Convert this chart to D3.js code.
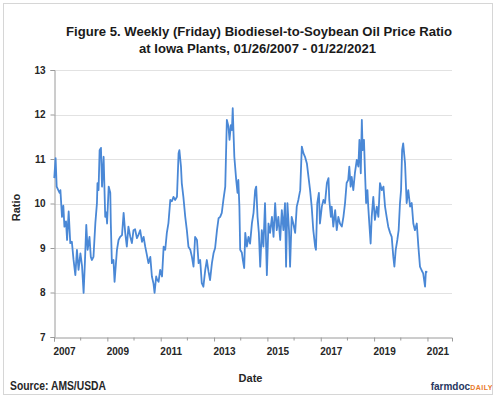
<!DOCTYPE html>
<html>
<head>
<meta charset="utf-8">
<script src="https://cdn.jsdelivr.net/npm/d3@7"></script>
<style>
  html, body { margin: 0; padding: 0; background: #fff; }
  svg { display: block; font-family: "Liberation Sans", Arial, sans-serif; }
</style>
</head>
<body>
<svg id="chart" width="500" height="400"></svg>
<script>
// ---- data (decimal year, ratio) ----
const years = [
2007.08,2007.13,2007.17,2007.23,2007.28,2007.31,2007.37,2007.42,2007.46,2007.52,2007.56,2007.62,2007.68,2007.74,2007.80,2007.87,2007.93,2007.99,
2008.06,2008.12,2008.18,2008.23,2008.28,2008.33,2008.40,2008.45,2008.49,2008.55,2008.62,2008.68,2008.70,2008.74,2008.78,2008.83,2008.87,2008.93,2008.99,
2009.03,2009.06,2009.12,2009.18,2009.20,2009.24,2009.30,2009.34,2009.43,2009.49,2009.55,2009.62,2009.68,2009.74,2009.80,2009.86,2009.93,2009.99,
2010.05,2010.11,2010.18,2010.24,2010.30,2010.37,2010.43,2010.49,2010.55,2010.61,2010.68,2010.74,2010.80,2010.84,2010.90,2010.93,2010.99,
2011.05,2011.12,2011.18,2011.24,2011.30,2011.36,2011.43,2011.49,2011.55,2011.61,2011.68,2011.74,2011.77,2011.83,2011.86,2011.92,2011.99,
2012.05,2012.11,2012.18,2012.24,2012.30,2012.36,2012.43,2012.49,2012.55,2012.61,2012.67,2012.74,2012.80,2012.86,2012.92,2012.99,
2013.05,2013.11,2013.18,2013.24,2013.30,2013.36,2013.42,2013.49,2013.55,2013.61,2013.65,2013.70,2013.74,2013.77,2013.80,2013.83,2013.90,2013.95,2013.98,
2014.02,2014.05,2014.11,2014.15,2014.20,2014.24,2014.30,2014.36,2014.42,2014.49,2014.55,2014.61,2014.65,2014.70,2014.75,2014.80,2014.86,2014.92,2014.98,
2015.05,2015.11,2015.17,2015.24,2015.30,2015.36,2015.42,2015.48,2015.55,2015.61,2015.67,2015.73,2015.77,2015.82,2015.88,2015.92,2015.98,
2016.04,2016.11,2016.17,2016.23,2016.30,2016.36,2016.42,2016.48,2016.55,2016.61,2016.67,2016.73,2016.79,2016.86,2016.89,2016.94,
2017.00,2017.04,2017.11,2017.17,2017.23,2017.30,2017.36,2017.39,2017.45,2017.48,2017.54,2017.61,2017.67,2017.73,2017.79,2017.86,2017.92,2017.98,
2018.04,2018.10,2018.14,2018.19,2018.23,2018.29,2018.35,2018.42,2018.48,2018.52,2018.57,2018.61,2018.64,2018.69,2018.73,2018.77,2018.82,2018.85,2018.89,2018.94,2018.98,
2019.04,2019.10,2019.17,2019.23,2019.29,2019.36,2019.42,2019.48,2019.54,2019.60,2019.67,2019.73,2019.79,2019.83,2019.88,2019.94,2019.99,
2020.04,2020.08,2020.12,2020.16,2020.23,2020.29,2020.35,2020.42,2020.48,2020.54,2020.60,2020.67,2020.73,2020.79,2020.85,2020.91,2020.98,
2021.01,2021.06
];
const ratio = [
10.57,11.02,10.38,10.30,10.24,10.30,9.70,9.95,9.48,9.60,9.18,9.82,9.11,9.14,8.75,8.39,8.96,8.51,
8.88,8.60,7.99,8.70,9.52,8.96,9.25,8.80,8.73,8.80,9.56,10.01,10.46,10.30,11.20,11.25,10.38,11.05,9.70,
9.80,9.55,10.38,10.24,9.55,8.66,8.73,8.24,8.96,9.18,9.25,9.29,9.79,9.34,9.03,9.48,9.25,9.11,
9.40,9.42,9.22,9.30,9.40,9.14,9.25,9.03,8.85,8.66,8.80,8.36,8.20,7.99,8.36,8.30,8.24,
8.51,8.36,9.03,8.96,9.34,9.56,10.08,10.05,10.15,10.08,10.15,11.13,11.20,10.83,10.46,10.15,9.70,
9.40,9.03,8.96,8.80,8.58,9.25,9.18,8.66,8.73,8.21,8.13,8.51,8.73,8.48,8.28,8.66,
8.88,9.00,9.40,9.67,9.70,9.79,10.08,10.38,11.88,11.73,11.43,11.76,11.65,12.14,11.58,11.05,10.53,10.24,10.53,
9.93,8.96,8.90,8.73,8.55,9.34,9.03,9.25,9.10,9.56,9.79,10.30,10.38,9.70,9.34,8.58,9.40,9.03,10.01,
8.39,9.55,9.34,9.70,9.25,10.01,9.40,9.70,9.18,9.85,9.40,10.01,8.58,10.01,9.40,8.58,9.70,
9.55,9.34,9.93,10.08,10.30,11.28,11.13,11.05,10.90,10.60,10.30,9.93,9.40,9.03,8.96,10.01,
10.24,9.55,9.93,10.08,10.01,10.46,10.57,10.08,9.70,9.93,9.48,9.85,9.40,9.70,9.55,9.48,9.70,10.01,
10.46,10.53,10.83,10.38,10.60,10.30,10.68,10.98,10.83,11.43,10.68,11.88,11.20,11.43,10.68,10.01,10.30,9.93,9.55,9.10,9.70,
10.15,9.63,9.93,9.70,10.46,10.30,10.38,9.93,9.70,9.48,9.34,9.25,8.80,8.58,8.96,9.18,9.40,
10.01,10.30,11.20,11.35,10.90,10.01,10.30,9.93,10.01,9.55,9.40,9.55,9.03,8.58,8.50,8.43,8.13,
8.47,8.45
];
const yTicks = [7, 8, 9, 10, 11, 12, 13];
const xLabelYears = [2007, 2009, 2011, 2013, 2015, 2017, 2019, 2021];
const titleLines = [
  "Figure 5. Weekly (Friday) Biodiesel-to-Soybean Oil Price Ratio",
  "at Iowa Plants, 01/26/2007 - 01/22/2021"
];

// ---- drawing ----
const svg = d3.select("#chart");
const plotLeft = 54, plotRight = 452, plotTop = 70, plotBottom = 337;
const startYear = 2007.07;           // axis origin (first weekly observation)
const endYear = 2021.99;

const x = d3.scaleLinear().domain([startYear, endYear]).range([plotLeft, plotRight]);
const y = d3.scaleLinear().domain([7, 13]).range([plotBottom, plotTop]);

// frame
svg.append("rect").attr("x", 3.5).attr("y", 3.5).attr("width", 489).attr("height", 391)
  .attr("fill", "#fff").attr("stroke", "#d6d6d6").attr("stroke-width", 1);

// title
svg.append("text").attr("x", 259).attr("y", 36).attr("text-anchor", "middle")
  .attr("font-size", 13.2).attr("font-weight", "bold").attr("fill", "#1a1a1a")
  .attr("textLength", 386).attr("lengthAdjust", "spacingAndGlyphs").text(titleLines[0]);
svg.append("text").attr("x", 257.5).attr("y", 53).attr("text-anchor", "middle")
  .attr("font-size", 13.2).attr("font-weight", "bold").attr("fill", "#1a1a1a")
  .attr("textLength", 237).attr("lengthAdjust", "spacingAndGlyphs").text(titleLines[1]);

// gridlines
svg.append("g").selectAll("line").data(yTicks.filter(d => d > 7)).join("line")
  .attr("x1", plotLeft).attr("x2", plotRight)
  .attr("y1", d => Math.round(y(d)) + 0.5).attr("y2", d => Math.round(y(d)) + 0.5)
  .attr("stroke", "#e2e2e2").attr("stroke-width", 1);

// y axis
const yAxis = svg.append("g").attr("transform", `translate(${plotLeft + 0.5},0)`)
  .call(d3.axisLeft(y).tickValues(yTicks).tickSize(4).tickPadding(5).tickFormat(d3.format("d")));
yAxis.select(".domain").attr("stroke", "#9a9a9a");
yAxis.selectAll(".tick line").attr("stroke", "#9a9a9a");
yAxis.selectAll(".tick text").attr("font-size", 10).attr("font-weight", "bold")
  .attr("fill", "#262626").attr("font-family", "Liberation Sans, Arial, sans-serif");

// x axis: major ticks every 2 years, minor every year
const majorTicks = xLabelYears.map(yr => startYear + (yr - 2007));
const minorTicks = d3.range(2008, 2022, 2).map(yr => startYear + (yr - 2007));
const xAxis = svg.append("g").attr("transform", `translate(0,${plotBottom + 0.5})`)
  .call(d3.axisBottom(x).tickValues(majorTicks).tickSize(4).tickPadding(6)
    .tickFormat((d, i) => String(xLabelYears[i])));
xAxis.select(".domain").attr("stroke", "#9a9a9a");
xAxis.selectAll(".tick line").attr("stroke", "#9a9a9a");
xAxis.selectAll(".tick text").attr("font-size", 10).attr("font-weight", "bold")
  .attr("fill", "#262626").attr("dx", 10).attr("font-family", "Liberation Sans, Arial, sans-serif");
xAxis.append("g").selectAll("line").data(minorTicks).join("line")
  .attr("x1", d => x(d)).attr("x2", d => x(d)).attr("y1", 0).attr("y2", 3)
  .attr("stroke", "#9a9a9a");

// series line
const pts = years.map((yr, i) => [yr, ratio[i]]);
svg.append("path").datum(pts)
  .attr("fill", "none").attr("stroke", "#4a88d6").attr("stroke-width", 1.8)
  .attr("stroke-linejoin", "round")
  .attr("d", d3.line().x(d => x(d[0])).y(d => y(d[1])));

// axis titles
svg.append("text").attr("transform", "translate(20,207.5) rotate(-90)")
  .attr("text-anchor", "middle").attr("font-size", 11).attr("font-weight", "bold")
  .attr("fill", "#262626").text("Ratio");
svg.append("text").attr("x", 250.5).attr("y", 382).attr("text-anchor", "middle")
  .attr("font-size", 11).attr("font-weight", "bold").attr("fill", "#262626").text("Date");

// source and brand
svg.append("text").attr("x", 10).attr("y", 390).attr("font-size", 12).attr("font-weight", "bold")
  .attr("fill", "#262626").attr("textLength", 96).attr("lengthAdjust", "spacingAndGlyphs")
  .text("Source: AMS/USDA");
const brand = svg.append("text").attr("x", 493).attr("y", 390).attr("text-anchor", "end")
  .attr("font-weight", "bold");
brand.append("tspan").attr("font-size", 10).attr("fill", "#27375f").text("farmdoc");
brand.append("tspan").attr("font-size", 7).attr("fill", "#e8782a").attr("letter-spacing", 0.5).text("DAILY");
</script>
</body>
</html>
